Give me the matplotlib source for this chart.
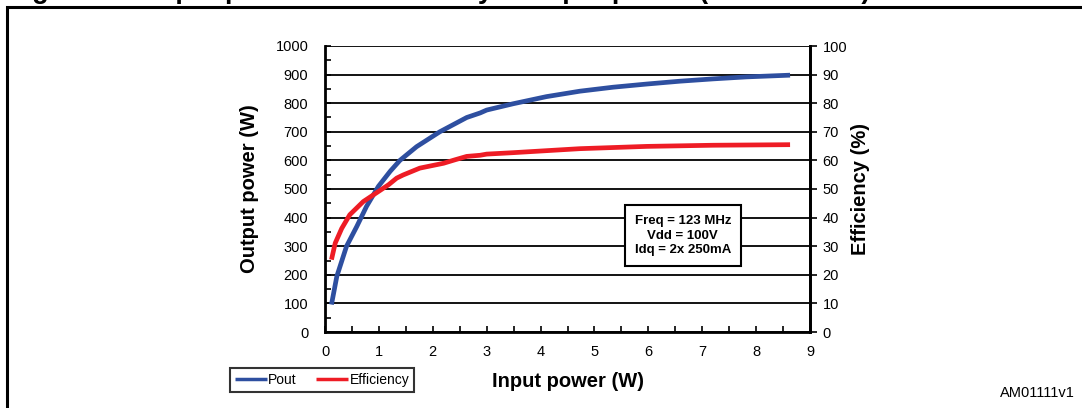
import numpy as np
import matplotlib
matplotlib.use("Agg")
import matplotlib.pyplot as plt
from matplotlib.patches import Rectangle
from matplotlib.ticker import MultipleLocator

plt.rcParams["font.family"] = ["Liberation Sans", "DejaVu Sans"]

# data
pin_pout = [0.12, 0.22, 0.40, 0.59, 0.77, 0.99, 1.21, 1.39, 1.70, 2.13, 2.63, 2.88, 3.0,
            3.49, 4.11, 4.73, 5.35, 5.97, 6.59, 7.20, 7.82, 8.63]
pout = [96, 195, 300, 369, 439, 509, 562, 600, 648, 700, 750, 766, 776,
        798, 823, 842, 856, 867, 877, 885, 892, 898]

pin_eff = [0.12, 0.19, 0.31, 0.46, 0.71, 0.99, 1.18, 1.33, 1.45, 1.76, 2.2, 2.41, 2.63, 2.88,
           3.0, 3.49, 4.11, 4.73, 5.35, 5.97, 6.59, 7.2, 8.63]
efficiency = [25.3, 31.1, 36.2, 41.0, 45.6, 49.1, 51.5, 53.8, 54.9, 57.3, 59.0, 60.2, 61.4, 61.8,
              62.2, 62.7, 63.4, 64.1, 64.5, 64.9, 65.1, 65.3, 65.5]

note_lines = ["Freq = 123 MHz", "Vdd = 100V", "Idq = 2x 250mA"]
title = "Figure 5. Output power and efficiency vs input power (Vdd = 100 V)"

fig = plt.figure(figsize=(10.82, 4.08), dpi=100)
W, H = 1082, 408
ax = fig.add_axes([325 / W, 1 - 332 / H, (810 - 325) / W, (332 - 46) / H])

# outer frame (runs off the right and bottom)
fig.patches.append(Rectangle((7 / W, -0.1), 1.2, 1 - 7 / H + 0.1, transform=fig.transFigure,
                             fill=False, lw=2.2, ec="black"))
# cropped title, only the descenders show
fig.text(8 / W, 1 + 2 / H, title, fontsize=19.5, fontweight="bold", va="baseline", ha="left")

blue = "#2e4fa0"
red = "#ee1c25"
l1, = ax.plot(pin_pout, pout, color=blue, lw=3.4, solid_capstyle="butt",
              solid_joinstyle="round", zorder=4)
ax2 = ax.twinx()
l2, = ax2.plot(pin_eff, efficiency, color=red, lw=3.4, solid_capstyle="butt",
               solid_joinstyle="round", zorder=4)

ax.set_xlim(0, 9)
ax.set_ylim(0, 1000)
ax2.set_ylim(0, 100)
ax.yaxis.set_major_locator(MultipleLocator(100))
ax.yaxis.set_minor_locator(MultipleLocator(50))
ax.xaxis.set_major_locator(MultipleLocator(1))
ax.xaxis.set_minor_locator(MultipleLocator(0.5))
ax2.yaxis.set_major_locator(MultipleLocator(10))

ax.grid(axis="y", which="major", color="black", lw=1.3)
ax.set_axisbelow(True)
for s in ["left", "bottom", "right"]:
    ax.spines[s].set_linewidth(2)
ax.spines["top"].set_visible(False)
for s in ["left", "bottom", "top"]:
    ax2.spines[s].set_visible(False)
ax2.spines["right"].set_linewidth(2)

ax.tick_params(axis="y", which="both", direction="in", length=4, width=1.2, labelsize=10.5, pad=12)
ax.tick_params(axis="x", which="both", direction="in", length=4, width=1.2, labelsize=10.5, pad=9)
ax2.tick_params(axis="y", direction="out", length=5, width=1.2, labelsize=10.5, pad=4)

ax.set_ylabel("Output power (W)", fontsize=14.5, fontweight="bold", labelpad=12)
ax2.set_ylabel("Efficiency (%)", fontsize=14.5, fontweight="bold", labelpad=3)
ax.set_xlabel("Input power (W)", fontsize=14.5, fontweight="bold", labelpad=10)

ax2.text(6.64, 337, "\n".join(note_lines), transform=ax.transData, fontsize=9.5, fontweight="bold",
         ha="center", va="center", linespacing=1.25, zorder=6,
         bbox=dict(boxstyle="square,pad=0.75", fc="white", ec="black", lw=1.5))

leg = fig.legend([l1, l2], ["Pout", "Efficiency"], loc="center", bbox_to_anchor=(322 / W, 1 - 380 / H),
                 ncol=2, fontsize=10, frameon=True, fancybox=False, edgecolor="black",
                 handlelength=2.3, handletextpad=0.1, columnspacing=1.4, borderpad=0.35)
leg.get_frame().set_linewidth(1.5)
for h in leg.get_lines():
    h.set_linewidth(2.5)

fig.text(1075 / W, 1 - 393 / H, "AM01111v1", fontsize=10.5, ha="right", va="center")

fig.savefig("out.png", dpi=100)
